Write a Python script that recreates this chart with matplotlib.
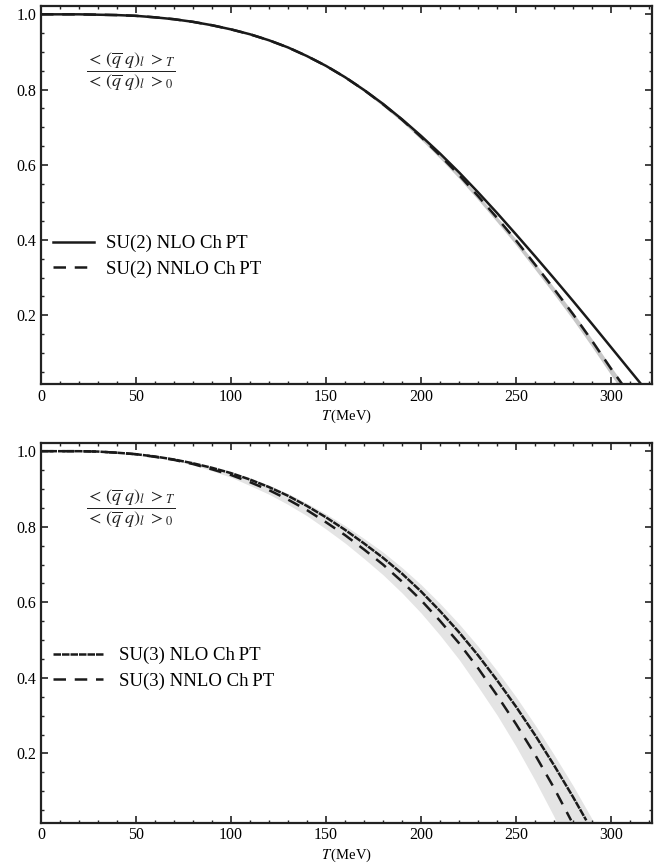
import matplotlib
matplotlib.use('Agg')
import matplotlib.pyplot as plt
import numpy as np
from matplotlib.ticker import MultipleLocator

plt.rcParams['font.family'] = ['Liberation Serif', 'DejaVu Serif']
plt.rcParams['mathtext.fontset'] = 'stix'

# values: T in MeV, ratio of condensates

# top panel, SU(2)
t_su2_nlo = [0, 20, 30, 40, 50, 60, 70, 80, 90, 100, 110, 120, 130, 140, 150, 160, 170, 180,
             190, 200, 210, 220, 230, 240, 250, 260, 270, 280, 290, 300, 310, 316]
r_su2_nlo = [1.0, 1.0, 0.999, 0.998, 0.996, 0.992, 0.987, 0.98, 0.971, 0.96, 0.947, 0.931, 0.912,
             0.889, 0.863, 0.833, 0.799, 0.762, 0.721, 0.677, 0.63, 0.58, 0.527, 0.472, 0.415,
             0.357, 0.298, 0.238, 0.177, 0.115, 0.053, 0.016]

t_su2_nnlo = [0, 20, 30, 40, 50, 60, 70, 80, 90, 100, 110, 120, 130, 140, 150, 160, 170, 180,
              190, 200, 210, 220, 230, 240, 250, 260, 270, 280, 290, 300, 306]
r_su2_nnlo = [1.0, 1.0, 0.999, 0.998, 0.996, 0.992, 0.987, 0.98, 0.971, 0.96, 0.947, 0.931, 0.912,
              0.889, 0.863, 0.833, 0.799, 0.761, 0.72, 0.674, 0.625, 0.573, 0.517, 0.459, 0.399,
              0.335, 0.27, 0.203, 0.132, 0.058, 0.016]
band_su2_lo = [1.0, 1.0, 0.999, 0.998, 0.996, 0.992, 0.987, 0.98, 0.971, 0.96, 0.947, 0.931, 0.911,
               0.888, 0.861, 0.830, 0.795, 0.756, 0.714, 0.667, 0.617, 0.564, 0.507, 0.448, 0.387,
               0.322, 0.256, 0.188, 0.116, 0.041, -0.002]
band_su2_hi = [1.0, 1.0, 0.999, 0.998, 0.996, 0.992, 0.987, 0.98, 0.971, 0.96, 0.947, 0.931, 0.912,
               0.889, 0.864, 0.834, 0.800, 0.763, 0.722, 0.676, 0.627, 0.575, 0.52, 0.462, 0.402,
               0.339, 0.274, 0.208, 0.137, 0.063, 0.021]

# bottom panel, SU(3)
t_su3_nlo = [0, 20, 30, 40, 50, 60, 70, 80, 90, 100, 110, 120, 130, 140, 150, 160, 170, 180,
             190, 200, 210, 220, 230, 240, 250, 260, 270, 280, 287]
r_su3_nlo = [1.0, 1.0, 0.999, 0.996, 0.992, 0.986, 0.978, 0.968, 0.956, 0.942, 0.925, 0.905, 0.882,
             0.855, 0.825, 0.792, 0.756, 0.718, 0.676, 0.629, 0.577, 0.521, 0.46, 0.394, 0.324,
             0.249, 0.169, 0.085, 0.023]

t_su3_nnlo = [0, 20, 30, 40, 50, 60, 70, 80, 90, 100, 110, 120, 130, 140, 150, 160, 170, 180,
              190, 200, 210, 220, 230, 240, 250, 260, 270, 279]
r_su3_nnlo = [1.0, 1.0, 0.999, 0.996, 0.992, 0.985, 0.977, 0.966, 0.952, 0.937, 0.918, 0.897, 0.872,
              0.844, 0.812, 0.778, 0.74, 0.70, 0.655, 0.606, 0.551, 0.492, 0.426, 0.354, 0.278,
              0.197, 0.109, 0.023]

t_su3_band = [0, 20, 30, 40, 50, 60, 70, 80, 90, 100, 110, 120, 130, 140, 150, 160, 170, 180,
              190, 200, 210, 220, 230, 240, 250, 260, 270, 280, 291]
band_su3_lo = [1.0, 1.0, 0.999, 0.996, 0.992, 0.985, 0.976, 0.964, 0.948, 0.931, 0.909, 0.886, 0.859,
               0.829, 0.794, 0.757, 0.716, 0.673, 0.625, 0.572, 0.513, 0.449, 0.377, 0.302, 0.219,
               0.129, 0.033, -0.08, -0.2]
band_su3_hi = [1.0, 1.0, 0.999, 0.996, 0.992, 0.986, 0.979, 0.969, 0.958, 0.945, 0.929, 0.910, 0.888,
               0.862, 0.834, 0.803, 0.769, 0.733, 0.692, 0.647, 0.597, 0.543, 0.484, 0.419, 0.350,
               0.276, 0.197, 0.115, 0.018]

xticks = [0, 50, 100, 150, 200, 250, 300]
yticks = [0.2, 0.4, 0.6, 0.8, 1.0]

ratio_lbl = r'$\dfrac{<\,(\overline{q}\;q)_l\;>_T}{<\,(\overline{q}\;q)_l\;>_0}$'

fig = plt.figure(figsize=(6.72, 8.65), dpi=100)
ax1 = fig.add_axes([0.061, 0.556, 0.909, 0.437])
ax2 = fig.add_axes([0.061, 0.049, 0.909, 0.439])


def style_axes(ax):
    ax.set_xlim(0, 321.5)
    ax.set_ylim(0.017, 1.022)
    ax.set_xticks(xticks)
    ax.set_yticks(yticks)
    ax.set_yticklabels(['0.2', '0.4', '0.6', '0.8', '1.0'])
    ax.xaxis.set_minor_locator(MultipleLocator(10))
    ax.yaxis.set_minor_locator(MultipleLocator(0.05))
    ax.tick_params(which='both', direction='in', top=True, right=True,
                   labeltop=False, labelright=False, color='#222222', labelsize=11.5)
    ax.tick_params(which='major', length=5, width=1.2)
    ax.tick_params(which='minor', length=2.5, width=1.0)
    for s in ax.spines.values():
        s.set_linewidth(1.6)
        s.set_color('#222222')
    ax.set_xlabel(r'$T\,$(MeV)', fontsize=10.5, labelpad=2)
    ax.text(0.146, 0.827, ratio_lbl, transform=ax.transAxes, fontsize=13,
            ha='center', va='center', color='#222222')


# top
ax1.fill_between(t_su2_nnlo, band_su2_lo, band_su2_hi, color='#c8c8c8', lw=0)
l1, = ax1.plot(t_su2_nlo, r_su2_nlo, color='#1a1a1a', lw=1.8)
l2, = ax1.plot(t_su2_nnlo, r_su2_nnlo, color='#1a1a1a', lw=1.8, dashes=(5, 3.5))
style_axes(ax1)
ax1.legend([l1, l2], ['SU(2) NLO Ch\u2009PT', 'SU(2) NNLO Ch\u2009PT'], loc='upper left',
           bbox_to_anchor=(0.0, 0.427), frameon=False, fontsize=13.5,
           borderaxespad=0.25, handlelength=2.2, handletextpad=0.6, labelspacing=0.45)

# bottom
ax2.fill_between(t_su3_band, band_su3_lo, band_su3_hi, color='#e4e4e4', lw=0)
l3, = ax2.plot(t_su3_nlo, r_su3_nlo, color='#1a1a1a', lw=1.8, dashes=(3, 0.4))
l4, = ax2.plot(t_su3_nnlo, r_su3_nnlo, color='#1a1a1a', lw=1.8, dashes=(5, 3.5))
style_axes(ax2)
ax2.legend([l3, l4], ['SU(3) NLO Ch\u2009PT', 'SU(3) NNLO Ch\u2009PT'], loc='upper left',
           bbox_to_anchor=(0.0, 0.495), frameon=False, fontsize=13.5,
           borderaxespad=0.25, handlelength=2.65, handletextpad=0.85, labelspacing=0.45)

plt.savefig('out.png', dpi=100)
